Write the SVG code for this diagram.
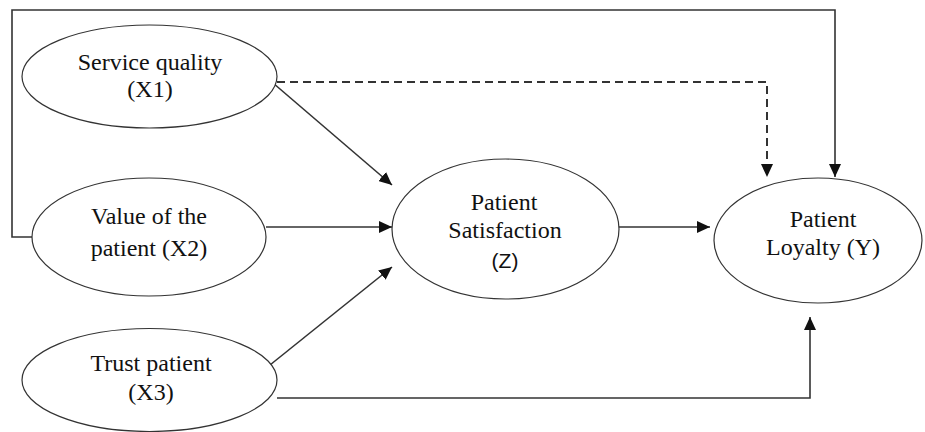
<svg xmlns="http://www.w3.org/2000/svg" width="925" height="432" viewBox="0 0 925 432">
<style>
.node ellipse{fill:#fff;stroke:#333;stroke-width:1.2}
.t{font-family:'Liberation Serif',Tinos,'Noto Serif','Times New Roman',Times,FreeSerif,'DejaVu Serif',serif;font-size:24px;fill:#111;text-anchor:middle}
.s{font-family:'Liberation Sans',Arial,sans-serif;font-size:21px;fill:#111;text-anchor:middle}
.c{fill:none;stroke:#333;stroke-width:1.6}
.d{stroke-dasharray:8,5;stroke-width:2}
</style>
<defs>
<marker id="ah" markerUnits="userSpaceOnUse" markerWidth="14" markerHeight="12" refX="13" refY="6" orient="auto">
<path d="M0,0 L13,6 L0,12 z" fill="#111"/>
</marker>
</defs>
<rect width="925" height="432" fill="#fff"/>
<g id="connectors">
<path class="c" d="M32,237 H12 V10 H835 V177" marker-end="url(#ah)"/>
<path class="c d" d="M277,82 H767 V177" marker-end="url(#ah)"/>
<path class="c" d="M273,83 L392,185" marker-end="url(#ah)"/>
<path class="c" d="M266,227 H392" marker-end="url(#ah)"/>
<path class="c" d="M265,369 L392,267" marker-end="url(#ah)"/>
<path class="c" d="M277,398 H810 V317" marker-end="url(#ah)"/>
<path class="c" d="M619,227 H710" marker-end="url(#ah)"/>
</g>
<g id="x1" class="node">
<ellipse cx="149.5" cy="76.5" rx="127.5" ry="51.5"/>
<text class="t" x="150" y="70">Service quality</text>
<text class="t" x="150" y="97">(X1)</text>
</g>
<g id="x2" class="node">
<ellipse cx="149" cy="237" rx="117" ry="59"/>
<text class="t" x="149" y="224">Value of the</text>
<text class="t" x="149" y="256">patient (X2)</text>
</g>
<g id="x3" class="node">
<ellipse cx="149.5" cy="380" rx="127.5" ry="51.5"/>
<text class="t" x="151" y="371">Trust patient</text>
<text class="t" x="151" y="400">(X3)</text>
</g>
<g id="z" class="node">
<ellipse cx="505.5" cy="229" rx="113.5" ry="70"/>
<text class="t" x="504" y="210">Patient</text>
<text class="t" x="505" y="238">Satisfaction</text>
<text class="s" x="505" y="268">(Z)</text>
</g>
<g id="y" class="node">
<ellipse cx="818" cy="240.5" rx="104" ry="62.5"/>
<text class="t" x="823" y="227">Patient</text>
<text class="t" x="823" y="255">Loyalty (Y)</text>
</g>
</svg>
